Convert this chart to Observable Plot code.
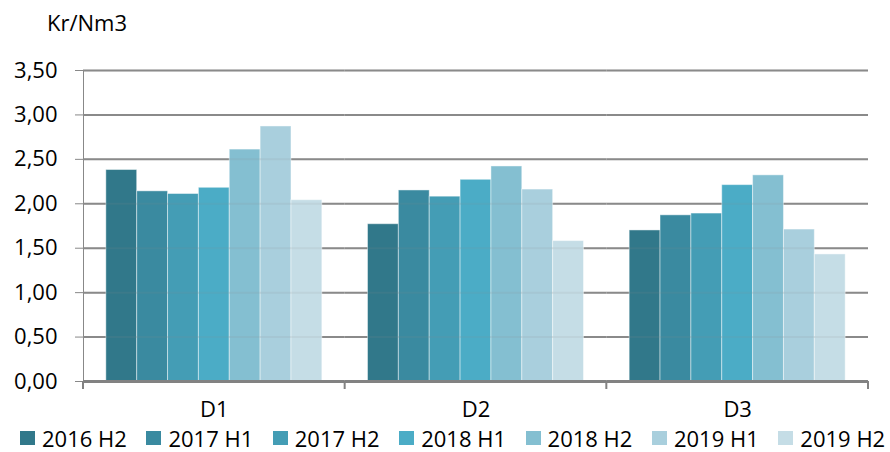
<!DOCTYPE html>
<html><head><meta charset="utf-8">
<script src="https://cdn.jsdelivr.net/npm/d3@7"></script>
<script src="https://cdn.jsdelivr.net/npm/@observablehq/plot@0.6"></script>
<style>
body{margin:0;background:#fff;font-family:"Open Sans",sans-serif;}
#wrap{position:relative;width:890px;height:452px;}
#chart svg text{fill:#000;}
#ylabel{position:absolute;left:47px;top:8px;font-size:22px;line-height:1.35;color:#000;}
#legend{position:absolute;left:20px;top:425px;display:flex;font-size:22px;line-height:1.2;color:#000;}
.item{width:126.4px;display:flex;align-items:center;white-space:nowrap;}
.sw{width:15px;height:14px;margin-right:7px;flex:none;}
</style></head><body>
<div id="wrap"><div id="chart"></div><div id="ylabel">Kr/Nm3</div><div id="legend"></div></div>
<script>
const groups = ["D1", "D2", "D3"];
const seriesNames = ["2016 H2", "2017 H1", "2017 H2", "2018 H1", "2018 H2", "2019 H1", "2019 H2"];
const valuesD1 = [2.38, 2.14, 2.11, 2.18, 2.61, 2.87, 2.04];
const valuesD2 = [1.77, 2.15, 2.08, 2.27, 2.42, 2.16, 1.58];
const valuesD3 = [1.70, 1.87, 1.89, 2.21, 2.32, 1.71, 1.43];
const colors = ["#31788a", "#3a8aa0", "#449db5", "#4bacc6", "#84bfd1", "#a9cfdd", "#c5dde6"];
const yTicks = [0, 0.5, 1, 1.5, 2, 2.5, 3, 3.5];

const valuesByGroup = [valuesD1, valuesD2, valuesD3];
const data = [];
groups.forEach((g, i) => seriesNames.forEach((s, j) => data.push({group: g, series: s, value: valuesByGroup[i][j]})));
const fmt = d => d3.format(".2f")(d).replace(".", ",");

const plot = Plot.plot({
  width: 890, height: 425,
  marginLeft: 83, marginRight: 22, marginTop: 70, marginBottom: 44,
  style: {fontFamily: "Open Sans", fontSize: "22px", color: "#888", background: "transparent", overflow: "visible"},
  facet: {data, x: "group"},
  fx: {domain: groups, padding: 0, round: false, label: null, tickSize: 0, tickPadding: 20},
  x: {domain: seriesNames, axis: null, paddingInner: 0, paddingOuter: 0.74, round: false},
  y: {domain: [0, 3.5], ticks: yTicks, tickFormat: fmt, tickSize: 8, tickPadding: 18, label: null, line: true},
  color: {domain: seriesNames, range: colors},
  marks: [
    Plot.ruleY(yTicks, {stroke: "#8a8a8a", strokeWidth: 2}),
    Plot.barY(data, {x: "series", y: "value", fill: "series", stroke: "#fff", strokeOpacity: 0.45, strokeWidth: 1}),
    Plot.ruleY(yTicks.slice(1), {stroke: "#8a8a8a", strokeWidth: 2, strokeOpacity: 0.12}),
    Plot.ruleY([0], {stroke: "#828282", strokeWidth: 3})
  ]
});
document.getElementById("chart").appendChild(plot);

// group boundary tick marks below the axis, from the fx scale
const fxs = plot.scale("fx");
const ys = plot.scale("y");
const [r0, r1] = fxs.range;
const n = fxs.domain.length;
const y0 = ys.apply ? ys.apply(0) : 381;
const svg = d3.select(plot);
const g = svg.append("g").attr("stroke", "#828282").attr("stroke-width", 2);
d3.range(n + 1).forEach(i => {
  const x = r0 + i * (r1 - r0) / n;
  g.append("line").attr("x1", x).attr("x2", x).attr("y1", y0).attr("y2", y0 + 8);
});

const legend = d3.select("#legend");
seriesNames.forEach((s, i) => {
  const it = legend.append("div").attr("class", "item");
  it.append("div").attr("class", "sw").style("background", colors[i]);
  it.append("span").text(s);
});
</script>
</body></html>
